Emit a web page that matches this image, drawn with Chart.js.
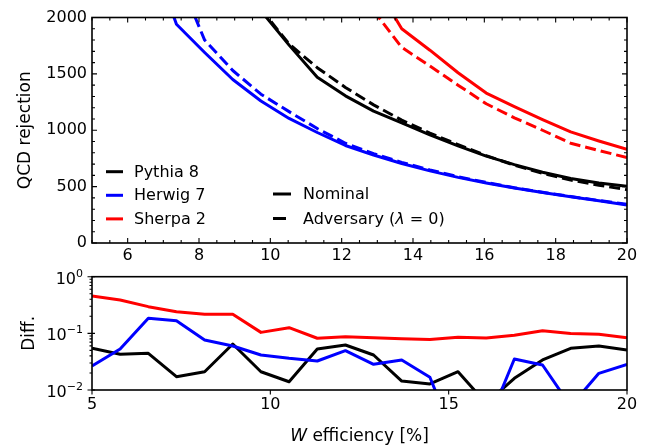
<!DOCTYPE html>
<html>
<head>
<meta charset="utf-8">
<script src="https://cdn.jsdelivr.net/npm/chart.js@4.4.1/dist/chart.umd.min.js"></script>
<style>
  body { margin: 0; background: #fff; }
  #top { position: absolute; left: 0; top: 0; }
  #bottom { position: absolute; left: 0; top: 260px; }
</style>
</head>
<body>
<canvas id="top" width="647" height="270"></canvas>
<canvas id="bottom" width="647" height="188"></canvas>
<script>
// W efficiency [%] sample points
const xEff = [5, 5.789, 6.579, 7.368, 8.158, 8.947, 9.737, 10.526, 11.316, 12.105,
              12.895, 13.684, 14.474, 15.263, 16.053, 16.842, 17.632, 18.421, 19.211, 20];

// QCD rejection (null = far above the plotted range)
const pythiaNominal   = [null, null, null, null, null, null, 2060, 1755, 1470, 1305, 1170, 1065, 960, 862, 770, 695, 628, 572, 532, 503];
const pythiaAdversary = [null, null, null, null, null, null, 2075, 1765, 1555, 1380, 1225, 1090, 975, 873, 775, 690, 618, 558, 512, 473];
const herwigNominal   = [null, null, 2640, 1940, 1690, 1450, 1260, 1105, 980, 865, 780, 705, 640, 582, 532, 487, 447, 410, 375, 337];
const herwigAdversary = [null, null, null, 2400, 1800, 1530, 1320, 1165, 1015, 885, 792, 715, 648, 588, 537, 490, 450, 412, 377, 343];
const sherpaNominal   = [null, null, null, null, null, null, null, null, null, null, 2315, 1900, 1710, 1510, 1330, 1210, 1095, 985, 905, 830];
const sherpaAdversary = [null, null, null, null, null, null, null, null, null, null, 2060, 1735, 1570, 1400, 1235, 1110, 1000, 885, 820, 758];

// relative difference, lower panel
const pythiaDiff = [0.0545, 0.0427, 0.0444, 0.0172, 0.021, 0.0648, 0.021, 0.014, 0.053, 0.0623,
                    0.0415, 0.0144, 0.0128, 0.021, 0.0058, 0.0161, 0.0339, 0.0545, 0.0598, 0.0508];
const herwigDiff = [0.0265, 0.053, 0.184, 0.167, 0.0764, 0.0598, 0.0415, 0.0362, 0.0325, 0.0494,
                    0.0284, 0.0339, 0.0168, 0.001, 0.0022, 0.0353, 0.0276, 0.0052, 0.0197, 0.0284];
const sherpaDiff = [0.456, 0.388, 0.296, 0.241, 0.217, 0.217, 0.104, 0.126, 0.082, 0.087,
                    0.084, 0.080, 0.078, 0.085, 0.083, 0.0925, 0.111, 0.099, 0.096, 0.084];

const generatorNames = ['Pythia 8', 'Herwig 7', 'Sherpa 2'];
const generatorColors = ['#000000', '#0000ff', '#ff0000'];

const topXTicks = [6, 8, 10, 12, 14, 16, 18, 20];
const topYTicks = [0, 500, 1000, 1500, 2000];
const bottomXTicks = [5, 10, 15, 20];
const bottomYTicks = [1, 0.1, 0.01];
const bottomYExponents = ['0', '\u22121', '\u22122'];

const FONT = 'DejaVu Sans';
Chart.defaults.font.family = FONT;
Chart.defaults.color = '#000';

const topXMinor = [];
for (let v = 5; v <= 20; v += 0.5) if (!topXTicks.includes(v)) topXMinor.push(v);
const topYMinor = [];
for (let v = 0; v <= 2000; v += 100) if (v % 500) topYMinor.push(v);
const bottomYMinor = [];
[0.01, 0.1].forEach(d => { for (let k = 2; k <= 9; k++) bottomYMinor.push(k * d); });

const pts = ys => xEff.map((x, i) => ({ x, y: ys[i] }));
const line = (ys, color, dashed) => ({
  data: pts(ys),
  borderColor: color,
  borderWidth: 3,
  borderDash: dashed ? [11, 5] : [],
  borderJoinStyle: 'round',
  pointRadius: 0,
  fill: false,
  tension: 0,
  clip: 0
});

// ticks on the frame, plus the frame itself
const frameTicks = {
  id: 'frameTicks',
  afterDraw(chart, args, o) {
    const { ctx, chartArea: a, scales: { x, y } } = chart;
    ctx.save();
    ctx.strokeStyle = '#000';
    ctx.lineWidth = 1.1;
    ctx.beginPath();
    const seg = (x1, y1, x2, y2) => { ctx.moveTo(x1, y1); ctx.lineTo(x2, y2); };
    [[o.xMajor, o.major], [o.xMinor || [], o.minor]].forEach(([vals, len]) => vals.forEach(v => {
      const px = x.getPixelForValue(v);
      if (o.inward) { seg(px, a.bottom, px, a.bottom - len); seg(px, a.top, px, a.top + len); }
      else seg(px, a.bottom, px, a.bottom + len);
    }));
    [[o.yMajor, o.major, true], [o.yMinor || [], o.minor, false]].forEach(([vals, len, maj]) => vals.forEach(v => {
      const py = y.getPixelForValue(v);
      if (o.inward) { seg(a.left, py, a.left + len, py); seg(a.right, py, a.right - len, py); }
      else seg(a.left - len, py, a.left + (maj ? 3 : 0), py);
    }));
    ctx.stroke();
    ctx.lineWidth = 1.6;
    ctx.strokeRect(a.left, a.top, a.right - a.left, a.bottom - a.top);
    ctx.restore();
  }
};

const legendBox = {
  id: 'legendBox',
  afterDraw(chart) {
    const ctx = chart.ctx;
    ctx.save();
    ctx.font = '16px "' + FONT + '"';
    ctx.textBaseline = 'middle';
    ctx.fillStyle = '#000';
    ctx.lineWidth = 3;
    generatorNames.forEach((name, i) => {
      const yy = 171.7 + i * 23.6;
      ctx.strokeStyle = generatorColors[i];
      ctx.beginPath(); ctx.moveTo(106, yy); ctx.lineTo(123, yy); ctx.stroke();
      ctx.fillText(name, 134, yy + 1);
    });
    ctx.strokeStyle = '#000';
    ctx.beginPath(); ctx.moveTo(273, 194); ctx.lineTo(291, 194); ctx.stroke();
    ctx.fillText('Nominal', 303, 195);
    ctx.setLineDash([13, 6]);
    ctx.beginPath(); ctx.moveTo(273, 218.5); ctx.lineTo(291, 218.5); ctx.stroke();
    ctx.setLineDash([]);
    let tx = 303;
    const part = (s, font) => { ctx.font = font; ctx.fillText(s, tx, 219.5); tx += ctx.measureText(s).width; };
    part('Adversary (', '16px "' + FONT + '"');
    part('\u03bb', 'italic 16px "' + FONT + '"');
    part(' = 0)', '16px "' + FONT + '"');
    ctx.restore();
  }
};

// log tick labels with raised exponents, and the x title with italic W
const lowerLabels = {
  id: 'lowerLabels',
  afterDraw(chart) {
    const { ctx, chartArea: a, scales: { y } } = chart;
    ctx.save();
    ctx.fillStyle = '#000';
    ctx.textBaseline = 'alphabetic';
    bottomYTicks.forEach((v, i) => {
      const py = y.getPixelForValue(v);
      ctx.font = '11px "' + FONT + '"';
      const ew = ctx.measureText(bottomYExponents[i]).width;
      ctx.textAlign = 'right';
      ctx.fillText(bottomYExponents[i], 83, py);
      ctx.font = '16px "' + FONT + '"';
      ctx.fillText('10', 83 - ew, py + 7);
    });
    ctx.textAlign = 'left';
    ctx.textBaseline = 'middle';
    const fi = 'italic 17px "' + FONT + '"', fn = '17px "' + FONT + '"';
    ctx.font = fi; const w1 = ctx.measureText('W').width;
    ctx.font = fn; const w2 = ctx.measureText(' efficiency [%]').width;
    let tx = (a.left + a.right) / 2 - (w1 + w2) / 2;
    const ty = 176.5;
    ctx.font = fi; ctx.fillText('W', tx, ty);
    ctx.font = fn; ctx.fillText(' efficiency [%]', tx + w1, ty);
    ctx.restore();
  }
};

const tickFont = { family: FONT, size: 16 };
const plain = v => String(v);

new Chart(document.getElementById('top'), {
  type: 'line',
  data: {
    datasets: [
      line(pythiaNominal, generatorColors[0], false),
      line(pythiaAdversary, generatorColors[0], true),
      line(herwigNominal, generatorColors[1], false),
      line(herwigAdversary, generatorColors[1], true),
      line(sherpaNominal, generatorColors[2], false),
      line(sherpaAdversary, generatorColors[2], true)
    ]
  },
  options: {
    responsive: false,
    animation: false,
    events: [],
    layout: { padding: { left: 0, right: 20, top: 17.5, bottom: 0 } },
    scales: {
      x: {
        type: 'linear', min: 5, max: 20,
        afterBuildTicks: s => { s.ticks = topXTicks.map(v => ({ value: v })); },
        afterFit: s => { s.height = 27; },
        grid: { display: false, drawTicks: false }, border: { display: false },
        ticks: { font: tickFont, padding: 3, maxRotation: 0, autoSkip: false, callback: plain }
      },
      y: {
        type: 'linear', min: 0, max: 2000,
        afterBuildTicks: s => { s.ticks = topYTicks.map(v => ({ value: v })); },
        afterFit: s => { s.width = 92; },
        grid: { display: false, drawTicks: false }, border: { display: false },
        ticks: { font: tickFont, padding: 5, callback: plain },
        title: { display: true, text: 'QCD rejection', font: { family: FONT, size: 17 }, padding: { top: 15.5, bottom: 0 } }
      }
    },
    plugins: {
      legend: { display: false },
      tooltip: { enabled: false },
      frameTicks: { inward: true, major: 5, minor: 3, xMajor: topXTicks, xMinor: topXMinor, yMajor: topYTicks, yMinor: topYMinor }
    }
  },
  plugins: [frameTicks, legendBox]
});

new Chart(document.getElementById('bottom'), {
  type: 'line',
  data: {
    datasets: [
      line(sherpaDiff, generatorColors[2], false),
      line(herwigDiff, generatorColors[1], false),
      line(pythiaDiff, generatorColors[0], false)
    ]
  },
  options: {
    responsive: false,
    animation: false,
    events: [],
    layout: { padding: { left: 0, right: 20, top: 16.7, bottom: 0 } },
    scales: {
      x: {
        type: 'linear', min: 5, max: 20,
        afterBuildTicks: s => { s.ticks = bottomXTicks.map(v => ({ value: v })); },
        afterFit: s => { s.height = 58; },
        grid: { display: false, drawTicks: false }, border: { display: false },
        ticks: { font: tickFont, padding: 5.5, maxRotation: 0, autoSkip: false, callback: plain }
      },
      y: {
        type: 'logarithmic', min: 0.01, max: 1,
        afterBuildTicks: s => { s.ticks = bottomYTicks.map(v => ({ value: v })); },
        afterFit: s => { s.width = 92; },
        grid: { display: false, drawTicks: false }, border: { display: false },
        ticks: { display: false },
        title: { display: true, text: 'Diff.', font: { family: FONT, size: 17 }, padding: { top: 19, bottom: 0 } }
      }
    },
    plugins: {
      legend: { display: false },
      tooltip: { enabled: false },
      frameTicks: { inward: false, major: 4.5, minor: 2.5, xMajor: bottomXTicks, yMajor: bottomYTicks, yMinor: bottomYMinor }
    }
  },
  plugins: [frameTicks, lowerLabels]
});
</script>
</body>
</html>
